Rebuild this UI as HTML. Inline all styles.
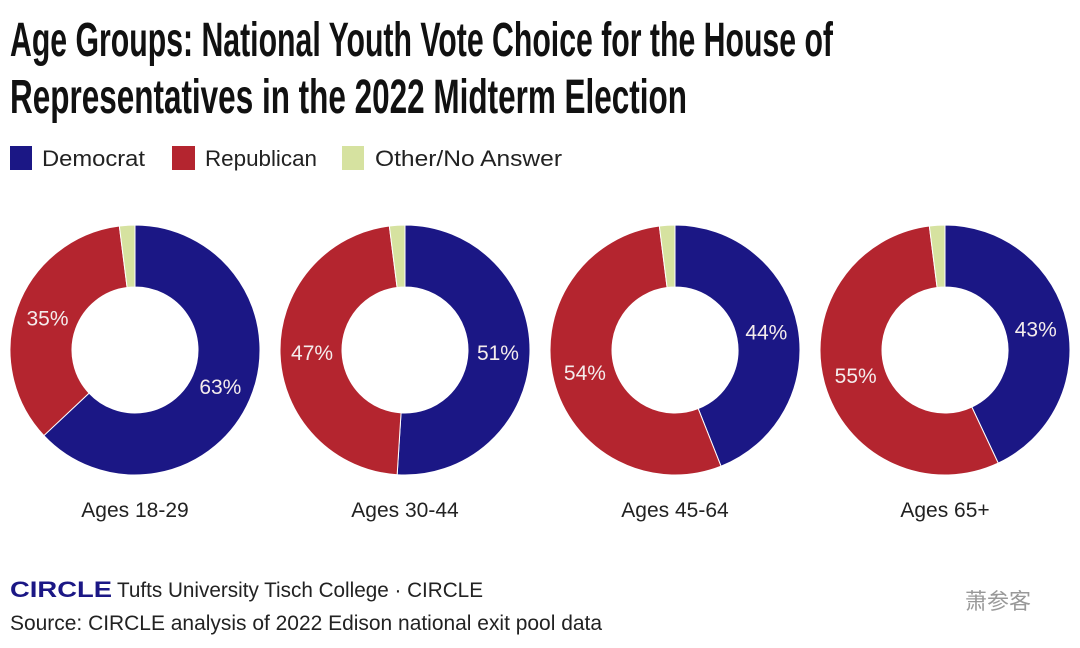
<!DOCTYPE html>
<html><head><meta charset="utf-8"><style>
html,body{margin:0;padding:0;background:#fff;}
svg{display:block;}
text{font-family:"Liberation Sans",sans-serif;}
</style></head><body>
<svg id="chart" width="1080" height="648" viewBox="0 0 1080 648" xmlns="http://www.w3.org/2000/svg">
<g style="font-family:'Liberation Sans Narrow','Liberation Sans',sans-serif;font-weight:bold;" fill="#111">
<text x="10" y="56" font-size="48" textLength="823" lengthAdjust="spacingAndGlyphs">Age Groups: National Youth Vote Choice for the House of</text>
<text x="10" y="113" font-size="48" textLength="677" lengthAdjust="spacingAndGlyphs">Representatives in the 2022 Midterm Election</text>
</g>
<g font-size="22" fill="#222">
<g><rect x="10" y="146" width="22" height="24" fill="#1b1785"/><text x="42" y="166" textLength="103" lengthAdjust="spacingAndGlyphs">Democrat</text></g>
<g><rect x="172" y="146" width="23" height="24" fill="#b4252f"/><text x="205" y="166" textLength="112" lengthAdjust="spacingAndGlyphs">Republican</text></g>
<g><rect x="342" y="146" width="22" height="24" fill="#d6e2a0"/><text x="375" y="166" textLength="187" lengthAdjust="spacingAndGlyphs">Other/No Answer</text></g>
</g>
<g id="donuts"></g>
<g>
<text x="10" y="597" font-size="22" font-weight="bold" fill="#1b1785" textLength="102" lengthAdjust="spacingAndGlyphs">CIRCLE</text>
<text x="117" y="597" font-size="21" fill="#222" textLength="366" lengthAdjust="spacingAndGlyphs">Tufts University Tisch College · CIRCLE</text>
<text x="10" y="630" font-size="21" fill="#222" textLength="592" lengthAdjust="spacingAndGlyphs">Source: CIRCLE analysis of 2022 Edison national exit pool data</text>
<text x="965" y="609" font-size="22" fill="#999" style="font-family:'Liberation Sans','Noto Sans CJK SC',sans-serif">萧参客</text>
</g>
</svg>
<script>
const groups = ["Ages 18-29","Ages 30-44","Ages 45-64","Ages 65+"];
const democrat = [63,51,44,43];
const republican = [35,47,54,55];
const other = [2,2,2,2];
const colors = ["#1b1785","#b4252f","#d6e2a0"];
const NS="http://www.w3.org/2000/svg";
const g=document.getElementById('donuts');
const R=125, r=63, cy=350, lr=93;
function pt(cx,rad,a){return [cx+rad*Math.sin(a), cy-rad*Math.cos(a)];}
groups.forEach((name,i)=>{
  const cx=135+i*270;
  const vals=[democrat[i],republican[i],other[i]];
  const tot=vals.reduce((a,b)=>a+b,0);
  let start=0;
  vals.forEach((v,k)=>{
    const a0=start/tot*2*Math.PI, a1=(start+v)/tot*2*Math.PI;
    const large=(a1-a0)>Math.PI?1:0;
    const p0=pt(cx,R,a0),p1=pt(cx,R,a1),q1=pt(cx,r,a1),q0=pt(cx,r,a0);
    const path=document.createElementNS(NS,'path');
    path.setAttribute('d',`M${p0[0]},${p0[1]}A${R},${R} 0 ${large} 1 ${p1[0]},${p1[1]}L${q1[0]},${q1[1]}A${r},${r} 0 ${large} 0 ${q0[0]},${q0[1]}Z`);
    path.setAttribute('fill',colors[k]);
    path.setAttribute('stroke','#fff');
    path.setAttribute('stroke-width','1');
    
    
    g.appendChild(path);
    if(k<2){
      const m=(a0+a1)/2, lp=pt(cx,lr,m);
      const t=document.createElementNS(NS,'text');
      t.setAttribute('x',lp[0]);t.setAttribute('y',lp[1]+7);
      t.setAttribute('text-anchor','middle');t.setAttribute('font-size','21');
      t.setAttribute('fill','#f4ecec');
      
      
      t.textContent=v+'%';
      g.appendChild(t);
    }
    start+=v;
  });
  const lab=document.createElementNS(NS,'text');
  lab.setAttribute('x',cx);lab.setAttribute('y',517);
  lab.setAttribute('text-anchor','middle');lab.setAttribute('font-size','21');lab.setAttribute('fill','#222');
  
  
  lab.textContent=name;
  g.appendChild(lab);
});
</script>
</body></html>
